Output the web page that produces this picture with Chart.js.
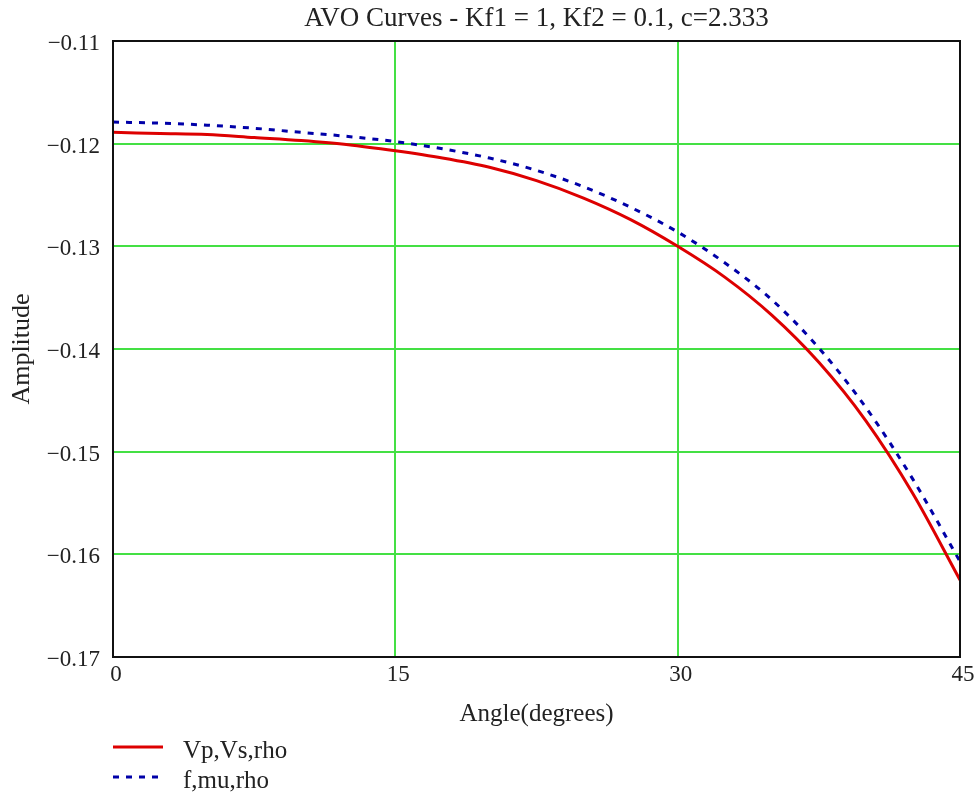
<!DOCTYPE html>
<html>
<head>
<meta charset="utf-8">
<script src="https://cdn.jsdelivr.net/npm/chart.js@4"></script>
<style>
  html, body { margin: 0; padding: 0; background: #fff; }
  #wrap { position: relative; width: 976px; height: 795px; }
</style>
</head>
<body>
<div id="wrap"><canvas id="avo"></canvas></div>
<script>
// incidence angles (degrees) and amplitudes
const angles     = [0, 2.5, 5, 7.5, 10, 12.5, 15, 17.5, 20, 22.5, 25, 27.5, 30, 32.5, 35, 37.5, 40, 42.5, 45];
const vpVsRho    = [-0.1189, -0.1190, -0.1191, -0.1194, -0.1197, -0.1201, -0.1207, -0.1214, -0.1223, -0.1236,
                    -0.1253, -0.1274, -0.1300, -0.1330, -0.1367, -0.1413, -0.1470, -0.1541, -0.1625];
const fMuRho     = [-0.1179, -0.1180, -0.1182, -0.1185, -0.1189, -0.1193, -0.1198, -0.1205, -0.1214, -0.1226,
                    -0.1242, -0.1262, -0.1286, -0.1316, -0.1352, -0.1399, -0.1457, -0.1527, -0.1607];
const seriesNames = ['Vp,Vs,rho', 'f,mu,rho'];
const xTicks = [0, 15, 30, 45];
const yTicks = [-0.17, -0.16, -0.15, -0.14, -0.13, -0.12, -0.11];

const serif = "'Liberation Serif', 'Times New Roman', serif";
const txt = '#222';
const grid = '#44e044';

const pts = vals => angles.map((a, i) => ({ x: a, y: vals[i] }));
const minus = s => s.replace('-', '\u2212');

// black frame round the plot + legend under the axis title
const framePlugin = {
  id: 'frame',
  afterDatasetsDraw(chart) {
    const { ctx, chartArea: a } = chart;
    ctx.save();
    ctx.strokeStyle = '#111';
    ctx.lineWidth = 2;
    ctx.strokeRect(a.left, a.top, a.right - a.left, a.bottom - a.top);
    ctx.restore();
  },
  afterDraw(chart) {
    const { ctx } = chart;
    ctx.save();
    ctx.font = '25px ' + serif;
    ctx.textBaseline = 'middle';
    chart.data.datasets.forEach((ds, i) => {
      const y = 747 + i * 30;
      ctx.strokeStyle = ds.borderColor;
      ctx.lineWidth = ds.borderWidth;
      ctx.setLineDash(ds.borderDash || []);
      ctx.beginPath();
      ctx.moveTo(113, y);
      ctx.lineTo(163, y);
      ctx.stroke();
      ctx.setLineDash([]);
      ctx.fillStyle = txt;
      ctx.fillText(ds.label, 183, y + 4);
    });
    ctx.restore();
  }
};

new Chart(document.getElementById('avo'), {
  type: 'line',
  data: {
    datasets: [{
      label: seriesNames[0],
      data: pts(vpVsRho),
      borderColor: '#dd0000',
      borderWidth: 3,
      pointRadius: 0,
      cubicInterpolationMode: 'monotone',
    }, {
      label: seriesNames[1],
      data: pts(fMuRho),
      borderColor: '#0000a8',
      borderWidth: 3,
      borderDash: [6, 7],
      pointRadius: 0,
      cubicInterpolationMode: 'monotone',
    }]
  },
  options: {
    responsive: true,
    maintainAspectRatio: false,
    animation: false,
    layout: { padding: { top: 0, right: 16, bottom: 0, left: 0 } },
    plugins: {
      legend: { display: false },
      tooltip: { enabled: false },
      title: {
        display: true,
        fullSize: false,
        text: 'AVO Curves - Kf1 = 1, Kf2 = 0.1, c=2.333',
        color: txt,
        font: { family: serif, size: 27, weight: 'normal' },
        padding: { top: 3, bottom: 5.6 }
      }
    },
    scales: {
      x: {
        type: 'linear',
        min: xTicks[0],
        max: xTicks[xTicks.length - 1],
        afterBuildTicks: s => { s.ticks = xTicks.map(v => ({ value: v })); },
        afterFit: s => { s.height = 138; },
        grid: { color: grid, lineWidth: 2, drawTicks: false },
        border: { color: '#111', width: 2 },
        ticks: {
          padding: 4,
          labelOffset: 3,
          color: txt,
          font: { family: serif, size: 23 },
          maxRotation: 0
        },
        title: {
          display: true,
          text: 'Angle(degrees)',
          color: txt,
          font: { family: serif, size: 25 },
          padding: { top: 0, bottom: 66 }
        }
      },
      y: {
        min: yTicks[0],
        max: yTicks[yTicks.length - 1],
        afterBuildTicks: s => { s.ticks = yTicks.map(v => ({ value: v })); },
        afterFit: s => { s.width = 113; },
        grid: { color: grid, lineWidth: 2, drawTicks: false },
        border: { color: '#111', width: 2 },
        ticks: {
          padding: 13,
          labelOffset: 3,
          color: txt,
          font: { family: serif, size: 23 },
          callback: v => minus(v.toFixed(2))
        },
        title: {
          display: true,
          text: 'Amplitude',
          color: txt,
          font: { family: serif, size: 26 },
          padding: { top: 7, bottom: 0 }
        }
      }
    }
  },
  plugins: [framePlugin]
});
</script>
</body>
</html>
